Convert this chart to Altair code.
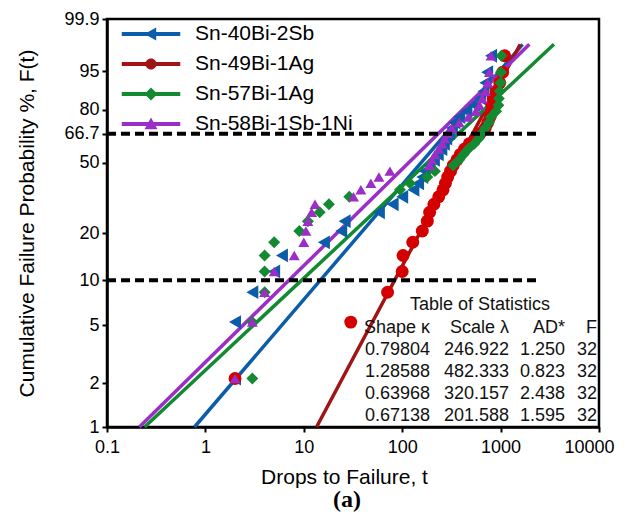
import math
import altair as alt
import pandas as pd

# ---------------- data ----------------
series = ["Sn-40Bi-2Sb", "Sn-49Bi-1Ag", "Sn-57Bi-1Ag", "Sn-58Bi-1Sb-1Ni"]

# drops to failure, ordered (rank 1..32) for each alloy
drops_40Bi_2Sb = [2, 2, 3, 5, 6, 16, 24, 26, 58, 80, 100, 130, 145, 160, 170, 190,
                  210, 230, 250, 265, 280, 300, 320, 340, 380, 450, 540, 620, 670, 700, 730, 800]
drops_49Bi_1Ag = [2, 30, 71, 100, 102, 128, 160, 180, 190, 210, 235, 260, 275, 290, 310, 330,
                  360, 390, 430, 480, 550, 620, 700, 740, 780, 810, 820, 840, 900, 980, 1050, 1100]
drops_57Bi_1Ag = [3, 3, 4, 4, 4, 5, 9, 11, 14.5, 18, 29, 95, 120, 180, 215, 330,
                  380, 420, 470, 540, 600, 640, 700, 760, 800, 900, 950, 960, 980, 1000, 1010, 1020]
drops_58Bi_1Sb_1Ni = [2, 3, 4, 5, 8, 10, 10.5, 11, 12, 13, 32, 38, 48, 58, 75, 190,
                      200, 215, 235, 255, 270, 290, 320, 380, 470, 560, 610, 650, 700, 740, 770, 800]
drops = [drops_40Bi_2Sb, drops_49Bi_1Ag, drops_57Bi_1Ag, drops_58Bi_1Sb_1Ni]

# table of statistics
shape_k = [0.79804, 1.28588, 0.63968, 0.67138]
scale_lam = [246.922, 482.333, 320.157, 201.588]
ad_star = ["1.250", "0.823", "2.438", "1.595"]
fail_n = [32, 32, 32, 32]

y_tick_pct = [1, 2, 5, 10, 20, 50, 66.7, 80, 95, 99.9]
y_tick_lbl = ["1", "2", "5", "10", "20", "50", "66.7", "80", "95", "99.9"]
x_ticks = [0.1, 1, 10, 100, 1000, 10000]
ref_levels = [10, 66.7]
ref_x_extent = [0.1, 2300]
fit_pct = [1, 99]

# ---------------- styles ----------------
marker_colors = ["#0B5DAA", "#D40000", "#138A32", "#9A2EC6"]
line_colors = ["#0B5DAA", "#A01414", "#138A32", "#9A2EC6"]
marker_shapes = ["triangle-left", "circle", "diamond", "triangle-up"]
marker_sizes = [190, 120, 190, 210]
bar = "M-4.5,-0.3H4.5V0.3H-4.5Z "
legend_paths = [
    bar + "M-1,0L0.8,-1L0.8,1Z",
    bar + "M-0.85,0A0.85,0.85 0 1,1 0.85,0A0.85,0.85 0 1,1 -0.85,0Z",
    bar + "M0,-1L1,0L0,1L-1,0Z",
    bar + "M0,-1L1,0.8L-1,0.8Z",
]
FONT = "Liberation Sans"


def wb(p):
    return math.log(-math.log(1 - p / 100.0))


w_dom = [wb(1), wb(99.9)]
w_ticks = [wb(p) for p in y_tick_pct]
expr = "''"
for w, lab in reversed(list(zip(w_ticks, y_tick_lbl))):
    expr = f"abs(datum.value - ({w:.6f})) < 0.0001 ? '{lab}' : ({expr})"

# ---------------- tables ----------------
rows = []
for s, vals in zip(series, drops):
    n = len(vals)
    for i, t in enumerate(vals, start=1):
        rows.append({"series": s, "t": t, "F": (i - 0.3) / (n + 0.4) * 100})
pts = pd.DataFrame(rows)

fit_rows = []
for s, k, lam in zip(series, shape_k, scale_lam):
    for p in fit_pct:
        fit_rows.append({"series": s, "k": k, "lam": lam, "F": p})
fits = pd.DataFrame(fit_rows)

refs = pd.DataFrame({"F": ref_levels, "t0": ref_x_extent[0], "t1": ref_x_extent[1]})

W_CALC = "log(-log(1 - datum.F / 100))"


def xenc(field):
    return alt.X(field, type="quantitative",
                 scale=alt.Scale(type="log", domain=[0.1, 10000], nice=False),
                 axis=alt.Axis(values=x_ticks, format="~g", title="Drops to Failure, t",
                               titleX=237, titleY=50, titleBaseline="middle",
                               titleAlign="center", labelPadding=6, labelFlush=False,
                               labelOffset={"condition": {"test": "datum.value >= 10000",
                                                          "value": -10}, "value": 0},
                               grid=False))


def yenc():
    return alt.Y("w:Q", scale=alt.Scale(domain=w_dom, nice=False, zero=False),
                 axis=alt.Axis(values=w_ticks, labelExpr=expr,
                               title="Cumulative Failure Probability %, F(t)",
                               titleX=-80, titleY=204, titleBaseline="middle",
                               titleAlign="center", labelPadding=3, grid=False))


lines = alt.Chart(fits).transform_calculate(
    t="datum.lam * pow(-log(1 - datum.F / 100), 1 / datum.k)", w=W_CALC
).mark_line(strokeWidth=3.5).encode(
    x=xenc("t"), y=yenc(),
    color=alt.Color("series:N", scale=alt.Scale(domain=series, range=line_colors), legend=None),
)

points = alt.Chart(pts).transform_calculate(w=W_CALC).mark_point(
    filled=True, opacity=1, strokeWidth=0
).encode(
    x=xenc("t"), y=yenc(),
    color=alt.Color("series:N", scale=alt.Scale(domain=series, range=marker_colors), legend=None),
    shape=alt.Shape("series:N", scale=alt.Scale(domain=series, range=marker_shapes), legend=None),
    size=alt.Size("series:N", scale=alt.Scale(domain=series, range=marker_sizes), legend=None),
)

leg = dict(title=None, orient="none", legendX=33.5, legendY=4.5, labelFont=FONT,
           labelFontSize=21, labelColor="black", symbolSize=169, labelOffset=33.5,
           rowPadding=8, padding=0, labelLimit=400, symbolStrokeWidth=0)
legend_layer = alt.Chart(pts).transform_filter("false").transform_calculate(w=W_CALC).mark_point(
    filled=True, opacity=1
).encode(
    x=xenc("t"), y=yenc(),
    color=alt.Color("series:N", scale=alt.Scale(domain=series, range=line_colors),
                    legend=alt.Legend(**leg)),
    shape=alt.Shape("series:N", scale=alt.Scale(domain=series, range=legend_paths),
                    legend=alt.Legend(**leg)),
)

rules = alt.Chart(refs).transform_calculate(w=W_CALC).mark_rule(
    color="black", strokeWidth=4, strokeDash=[9, 5]
).encode(x=xenc("t0"), x2="t1:Q", y=yenc())

# table of statistics
hdr = ["Shape κ", "Scale λ", "AD*", "F"]
cols = [[f"{v:.5f}" for v in shape_k], [f"{v:.3f}" for v in scale_lam], ad_star,
        [str(v) for v in fail_n]]
col_x = [323, 402, 458, 490]
table_layers = [
    alt.Chart(pd.DataFrame({"txt": ["Table of Statistics"]})).mark_text(
        font=FONT, fontSize=18, color="#111", align="center", baseline="middle"
    ).encode(x=alt.value(373), y=alt.value(286), text="txt:N")
]
for h, c, cx in zip(hdr, cols, col_x):
    table_layers.append(
        alt.Chart(pd.DataFrame({"txt": ["\n".join([h] + c)]})).mark_text(
            font=FONT, fontSize=18, color="#111", align="right", baseline="middle",
            lineBreak="\n", lineHeight=22
        ).encode(x=alt.value(cx), y=alt.value(309), text="txt:N")
    )

chart = alt.layer(lines, points, legend_layer, rules, *table_layers).resolve_scale(
    color="independent", shape="independent", size="independent"
).properties(
    width=492, height=408,
    autosize=alt.AutoSizeParams(type="none"),
    padding={"left": 99, "top": 11, "right": 20, "bottom": 96},
    title=alt.TitleParams("(a)", orient="bottom", anchor="middle", font="Liberation Serif",
                          fontSize=24, fontWeight="bold", color="black", offset=1, dx=-6),
).configure_view(stroke="black", strokeWidth=2.5).configure_axis(
    domainColor="black", domainWidth=2.5, tickColor="black", tickWidth=2, tickSize=5,
    labelFont=FONT, labelFontSize=18, labelColor="black",
    titleFont=FONT, titleFontSize=21, titleColor="black", titleFontWeight="normal",
)

chart.save("out.html", embed_options={"renderer": "svg", "actions": False})
